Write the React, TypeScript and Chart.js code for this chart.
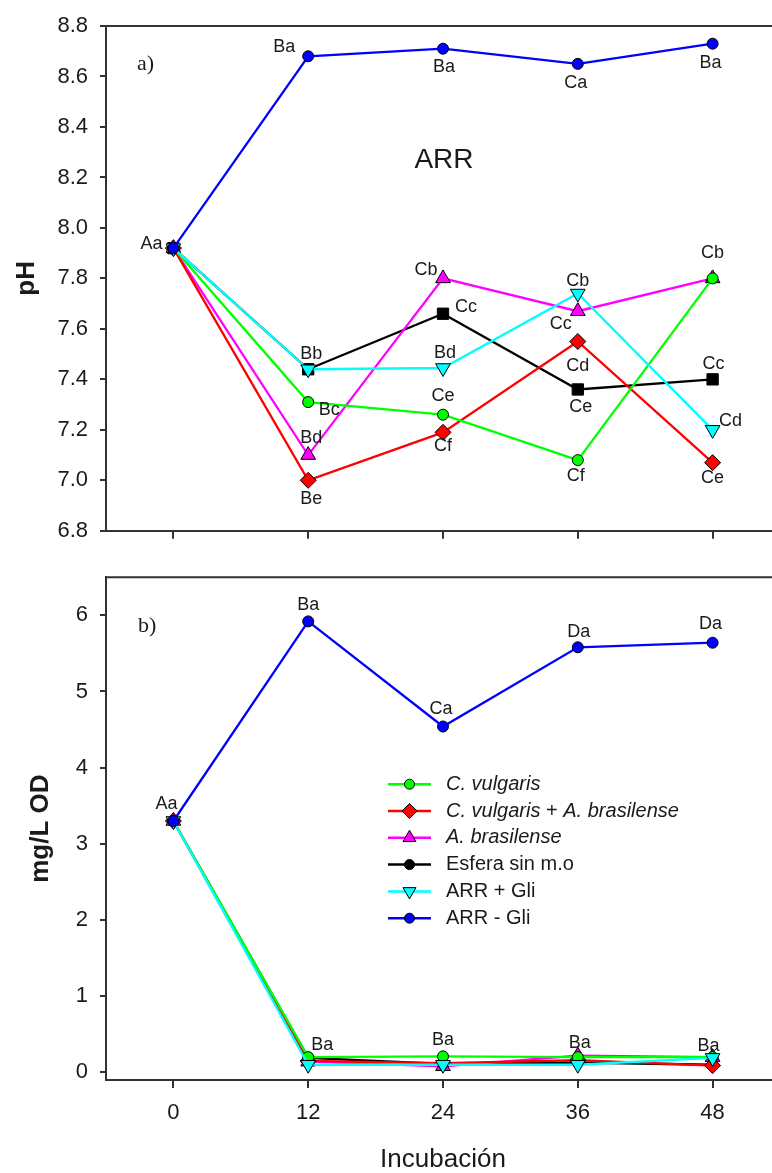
import React, { useEffect, useRef } from 'react';
import { Chart, registerables } from 'chart.js';

Chart.register(...registerables);

// ---------------- data ----------------
const hours = [0, 12, 24, 36, 48];
const xTicks = [0, 12, 24, 36, 48];
const phTicks = [6.8, 7.0, 7.2, 7.4, 7.6, 7.8, 8.0, 8.2, 8.4, 8.6, 8.8];
const odTicks = [0, 1, 2, 3, 4, 5, 6];

const seriesLabels = [
  'C. vulgaris',
  'C. vulgaris + A. brasilense',
  'A. brasilense',
  'Esfera sin m.o',
  'ARR + Gli',
  'ARR - Gli',
];

// pH (panel a)
const phCVulgaris = [7.92, 7.31, 7.26, 7.08, 7.8];
const phCvAb = [7.92, 7.0, 7.19, 7.55, 7.07];
const phABrasilense = [7.92, 7.1, 7.8, 7.67, 7.8];
const phEsfera = [7.92, 7.44, 7.66, 7.36, 7.4];
const phArrGliPlus = [7.92, 7.44, 7.445, 7.74, 7.2];
const phArrGliMinus = [7.92, 8.68, 8.71, 8.65, 8.73];

// mg/L OD (panel b)
const odCVulgaris = [3.3, 0.2, 0.21, 0.2, 0.2];
const odCvAb = [3.3, 0.15, 0.12, 0.16, 0.09];
const odABrasilense = [3.3, 0.14, 0.08, 0.22, 0.2];
const odEsfera = [3.3, 0.19, 0.11, 0.13, 0.1];
const odArrGliPlus = [3.3, 0.1, 0.1, 0.1, 0.19];
const odArrGliMinus = [3.3, 5.92, 4.54, 5.58, 5.64];

// significance letters
const phLettersCVulgaris = ['', 'Bc', 'Ce', 'Cf', ''];
const phLettersCvAb = ['', 'Be', 'Cf', 'Cd', 'Ce'];
const phLettersABrasilense = ['', 'Bd', 'Cb', 'Cc', 'Cb'];
const phLettersEsfera = ['', 'Bb', 'Cc', 'Ce', 'Cc'];
const phLettersArrGliPlus = ['', '', 'Bd', 'Cb', 'Cd'];
const phLettersArrGliMinus = ['Aa', 'Ba', 'Ba', 'Ca', 'Ba'];

const odLettersCVulgaris = ['', 'Ba', 'Ba', 'Ba', 'Ba'];
const odLettersCvAb = ['', '', '', '', ''];
const odLettersABrasilense = ['', '', '', '', ''];
const odLettersEsfera = ['', '', '', '', ''];
const odLettersArrGliPlus = ['', '', '', '', ''];
const odLettersArrGliMinus = ['Aa', 'Ba', 'Ca', 'Da', 'Da'];

// ---------------- styles ----------------
const FONT = "'Liberation Sans', Arial, sans-serif";
const SERIF = "'Liberation Serif', 'Times New Roman', serif";
const AXIS = '#333333';
const TEXT = '#1a1a1a';

const seriesColors = ['#00ff00', '#ff0000', '#ff00ff', '#000000', '#00ffff', '#0000ff'];
const topStyles = ['circle', 'rectRot', 'triangle', 'rect', 'triangle', 'circle'];
const bottomStyles = ['circle', 'rectRot', 'triangle', 'circle', 'triangle', 'circle'];
const pointRotations = [0, 0, 0, 0, 180, 0];
const topRadii = [5.5, 8, 8.5, 8, 8.5, 5.5];
const bottomRadii = [5.5, 8, 8.5, 5.5, 8.5, 5.5];
const legendRadii = [5, 7.5, 7.5, 5, 7.5, 5];
const drawOrder = [2, 3, 4, 5, 1, 0];

type Off = [number, number] | null;
const phLabelOffsets: Off[][] = [
  [null, [21, 8], [0, -19], [-2, 16], null],
  [null, [3, 19], [0, 14], [0, 25], [0, 15]],
  [null, [3, -17], [-17, -8], [-17, 13], [0, -25]],
  [null, [3, -15], [23, -7], [3, 18], [1, -15]],
  [null, null, [2, -15], [0, -13], [18, -9]],
  [[-22, -4], [-24, -9], [1, 18], [-2, 19], [-2, 19]],
];
const odLabelOffsets: Off[][] = [
  [null, [14, -12], [0, -16], [2, -14], [-4, -11]],
  [null, null, null, null, null],
  [null, null, null, null, null],
  [null, null, null, null, null],
  [null, null, null, null, null],
  [[-7, -17], [0, -16], [-2, -17], [1, -15], [-2, -19]],
];

const legendParts: { t: string; i: boolean }[][] = [
  [{ t: 'C. vulgaris', i: true }],
  [
    { t: 'C. vulgaris', i: true },
    { t: ' + ', i: false },
    { t: 'A. brasilense', i: true },
  ],
  [{ t: 'A. brasilense', i: true }],
  [{ t: 'Esfera sin m.o', i: false }],
  [{ t: 'ARR + Gli', i: false }],
  [{ t: 'ARR - Gli', i: false }],
];

// ---------------- helpers ----------------
function drawMarker(ctx: CanvasRenderingContext2D, style: string, rotation: number, x: number, y: number, r: number, fill: string) {
  ctx.beginPath();
  if (style === 'circle') {
    ctx.arc(x, y, r, 0, Math.PI * 2);
  } else if (style === 'rectRot') {
    ctx.moveTo(x, y - r);
    ctx.lineTo(x + r, y);
    ctx.lineTo(x, y + r);
    ctx.lineTo(x - r, y);
    ctx.closePath();
  } else if (style === 'rect') {
    const s = Math.SQRT1_2 * r;
    ctx.rect(x - s, y - s, 2 * s, 2 * s);
  } else if (style === 'triangle') {
    let rad = (rotation * Math.PI) / 180;
    ctx.moveTo(x + Math.sin(rad) * r, y - Math.cos(rad) * r);
    rad += (2 * Math.PI) / 3;
    ctx.lineTo(x + Math.sin(rad) * r, y - Math.cos(rad) * r);
    rad += (2 * Math.PI) / 3;
    ctx.lineTo(x + Math.sin(rad) * r, y - Math.cos(rad) * r);
    ctx.closePath();
  }
  ctx.fillStyle = fill;
  ctx.fill();
  ctx.lineWidth = 1;
  ctx.strokeStyle = '#000';
  ctx.stroke();
}

function makeDatasets(values: number[][], styles: string[], radii: number[]) {
  return values.map((vals, i) => ({
    label: seriesLabels[i],
    data: hours.map((h, j) => ({ x: h, y: vals[j] })),
    borderColor: seriesColors[i],
    backgroundColor: seriesColors[i],
    borderWidth: 2.3,
    pointStyle: styles[i],
    pointRotation: pointRotations[i],
    pointRadius: radii[i],
    pointBackgroundColor: seriesColors[i],
    pointBorderColor: '#000',
    pointBorderWidth: 1,
    tension: 0,
    order: drawOrder[i],
    clip: false as any,
    legendRadius: legendRadii[i],
  }));
}

function lettersPlugin(id: string, letters: string[][], offsets: Off[][]) {
  return {
    id,
    afterDatasetsDraw(chart: any) {
      const ctx = chart.ctx as CanvasRenderingContext2D;
      ctx.save();
      ctx.font = `18px ${FONT}`;
      ctx.fillStyle = TEXT;
      ctx.textAlign = 'center';
      ctx.textBaseline = 'middle';
      letters.forEach((row, i) => {
        const meta = chart.getDatasetMeta(i);
        row.forEach((txt, j) => {
          const off = offsets[i][j];
          if (!txt || !off) return;
          const pt = meta.data[j];
          ctx.fillText(txt, pt.x + off[0], pt.y + off[1]);
        });
      });
      ctx.restore();
    },
  };
}

function xScale(height: number, showLabels: boolean, title?: string) {
  return {
    type: 'linear',
    position: 'bottom',
    min: -6,
    max: 54,
    afterBuildTicks: (s: any) => {
      s.ticks = xTicks.map((v) => ({ value: v }));
    },
    afterFit: (s: any) => {
      s.height = height;
    },
    grid: { display: true, drawOnChartArea: false, drawTicks: true, tickLength: 8, color: AXIS, lineWidth: 2 },
    border: { display: true, color: AXIS, width: 2 },
    ticks: {
      display: showLabels,
      autoSkip: false,
      maxRotation: 0,
      padding: 12,
      color: TEXT,
      font: { family: FONT, size: 22 },
      callback: (v: any) => String(v),
    },
    title: title
      ? { display: true, text: title, color: TEXT, font: { family: FONT, size: 26, lineHeight: 1 }, padding: { top: 0, bottom: 0 } }
      : { display: false },
  };
}

function yScale(min: number, max: number, ticks: number[], decimals: number, title: string, titlePad: number) {
  return {
    type: 'linear',
    position: 'left',
    min,
    max,
    afterBuildTicks: (s: any) => {
      s.ticks = ticks.map((v) => ({ value: v }));
    },
    afterFit: (s: any) => {
      s.width = 106;
    },
    grid: { display: true, drawOnChartArea: false, drawTicks: true, tickLength: 6, color: AXIS, lineWidth: 2 },
    border: { display: true, color: AXIS, width: 2 },
    ticks: {
      autoSkip: false,
      padding: 12,
      color: TEXT,
      font: { family: FONT, size: 22 },
      callback: (v: any) => Number(v).toFixed(decimals),
    },
    title: {
      display: true,
      text: title,
      color: TEXT,
      font: { family: FONT, size: 26, weight: 'bold' },
      padding: { top: titlePad, bottom: 0 },
    },
  };
}

const topDecor = {
  id: 'topDecor',
  afterDraw(chart: any) {
    const { ctx, chartArea } = chart;
    ctx.save();
    ctx.strokeStyle = AXIS;
    ctx.lineWidth = 2;
    ctx.beginPath();
    ctx.moveTo(chartArea.left - 6, chartArea.top);
    ctx.lineTo(chart.width, chartArea.top);
    ctx.stroke();
    ctx.fillStyle = TEXT;
    ctx.textBaseline = 'alphabetic';
    ctx.textAlign = 'left';
    ctx.font = `22px ${SERIF}`;
    ctx.fillText('a)', chartArea.left + 31, chartArea.top + 44);
    ctx.textAlign = 'center';
    ctx.font = `28px ${FONT}`;
    ctx.fillText('ARR', chartArea.left + 338, chartArea.top + 142);
    ctx.restore();
  },
};

const bottomDecor = {
  id: 'bottomDecor',
  afterDraw(chart: any) {
    const { ctx, chartArea } = chart;
    ctx.save();
    ctx.strokeStyle = AXIS;
    ctx.lineWidth = 2;
    ctx.beginPath();
    ctx.moveTo(chartArea.left - 1, chartArea.top);
    ctx.lineTo(chart.width, chartArea.top);
    ctx.stroke();
    ctx.fillStyle = TEXT;
    ctx.textBaseline = 'alphabetic';
    ctx.textAlign = 'left';
    ctx.font = `22px ${SERIF}`;
    ctx.fillText('b)', chartArea.left + 32, chartArea.top + 55);

    // legend
    const x0 = chartArea.left + 282;
    const y0 = chartArea.top + 207;
    const rowH = 26.8;
    chart.data.datasets.forEach((ds: any, i: number) => {
      const y = y0 + i * rowH;
      ctx.strokeStyle = ds.borderColor;
      ctx.lineWidth = 2.5;
      ctx.beginPath();
      ctx.moveTo(x0, y);
      ctx.lineTo(x0 + 43, y);
      ctx.stroke();
      drawMarker(ctx, ds.pointStyle, ds.pointRotation || 0, x0 + 21.5, y, ds.legendRadius, ds.pointBackgroundColor);
      let tx = x0 + 58;
      ctx.fillStyle = TEXT;
      ctx.textBaseline = 'middle';
      ctx.textAlign = 'left';
      legendParts[i].forEach((p) => {
        ctx.font = `${p.i ? 'italic ' : ''}20px ${FONT}`;
        ctx.fillText(p.t, tx, y);
        tx += ctx.measureText(p.t).width;
      });
    });
    ctx.restore();
  },
};

function topConfig(): any {
  return {
    type: 'line',
    data: {
      datasets: makeDatasets(
        [phCVulgaris, phCvAb, phABrasilense, phEsfera, phArrGliPlus, phArrGliMinus],
        topStyles,
        topRadii
      ),
    },
    options: {
      responsive: false,
      animation: false,
      events: [],
      layout: { padding: { top: 26, right: 10, left: 0, bottom: 0 } },
      plugins: { legend: { display: false }, tooltip: { enabled: false } },
      scales: {
        x: xScale(14, false),
        y: yScale(6.8, 8.8, phTicks, 1, 'pH', 11),
      },
    },
    plugins: [
      topDecor,
      lettersPlugin(
        'phLetters',
        [phLettersCVulgaris, phLettersCvAb, phLettersABrasilense, phLettersEsfera, phLettersArrGliPlus, phLettersArrGliMinus],
        phLabelOffsets
      ),
    ],
  };
}

function bottomConfig(): any {
  return {
    type: 'line',
    data: {
      datasets: makeDatasets(
        [odCVulgaris, odCvAb, odABrasilense, odEsfera, odArrGliPlus, odArrGliMinus],
        bottomStyles,
        bottomRadii
      ),
    },
    options: {
      responsive: false,
      animation: false,
      events: [],
      layout: { padding: { top: 12, right: 10, left: 0, bottom: 0 } },
      plugins: { legend: { display: false }, tooltip: { enabled: false } },
      scales: {
        x: xScale(93, true, 'Incubación'),
        y: yScale(-0.1, 6.5, odTicks, 0, 'mg/L OD', 25),
      },
    },
    plugins: [
      bottomDecor,
      lettersPlugin(
        'odLetters',
        [odLettersCVulgaris, odLettersCvAb, odLettersABrasilense, odLettersEsfera, odLettersArrGliPlus, odLettersArrGliMinus],
        odLabelOffsets
      ),
    ],
  };
}

export default function App() {
  const topRef = useRef<HTMLCanvasElement>(null);
  const botRef = useRef<HTMLCanvasElement>(null);

  useEffect(() => {
    const c1 = new Chart(topRef.current as HTMLCanvasElement, topConfig());
    const c2 = new Chart(botRef.current as HTMLCanvasElement, bottomConfig());
    return () => {
      c1.destroy();
      c2.destroy();
    };
  }, []);

  return (
    <div
      style={{
        position: 'fixed',
        left: 0,
        top: 0,
        width: 772,
        height: 1173,
        overflow: 'hidden',
        background: '#ffffff',
      }}
    >
      <canvas
        ref={topRef}
        width={790}
        height={556}
        style={{ position: 'absolute', left: 0, top: 0, width: 790, height: 556 }}
      />
      <canvas
        ref={botRef}
        width={790}
        height={621}
        style={{ position: 'absolute', left: 0, top: 552, width: 790, height: 621 }}
      />
    </div>
  );
}
